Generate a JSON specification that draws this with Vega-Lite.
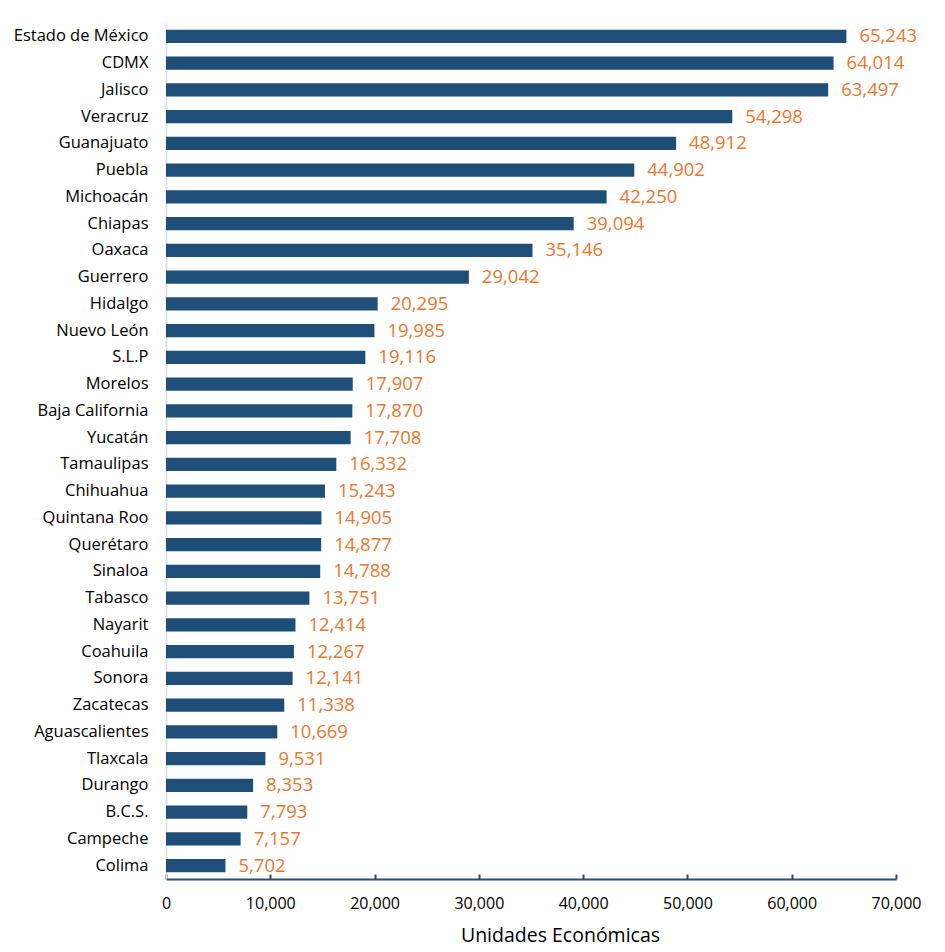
{
  "$schema": "https://vega.github.io/schema/vega-lite/v6.json",
  "width": 730,
  "height": 856,
  "autosize": {"type": "none"},
  "padding": {"left": 166, "top": 23, "right": 49, "bottom": 73},
  "background": "white",
  "config": {
    "view": {"stroke": null},
    "font": "Open Sans"
  },
  "data": {
    "values": [
      {"estado": "Estado de México", "unidades": 65243},
      {"estado": "CDMX", "unidades": 64014},
      {"estado": "Jalisco", "unidades": 63497},
      {"estado": "Veracruz", "unidades": 54298},
      {"estado": "Guanajuato", "unidades": 48912},
      {"estado": "Puebla", "unidades": 44902},
      {"estado": "Michoacán", "unidades": 42250},
      {"estado": "Chiapas", "unidades": 39094},
      {"estado": "Oaxaca", "unidades": 35146},
      {"estado": "Guerrero", "unidades": 29042},
      {"estado": "Hidalgo", "unidades": 20295},
      {"estado": "Nuevo León", "unidades": 19985},
      {"estado": "S.L.P", "unidades": 19116},
      {"estado": "Morelos", "unidades": 17907},
      {"estado": "Baja California", "unidades": 17870},
      {"estado": "Yucatán", "unidades": 17708},
      {"estado": "Tamaulipas", "unidades": 16332},
      {"estado": "Chihuahua", "unidades": 15243},
      {"estado": "Quintana Roo", "unidades": 14905},
      {"estado": "Querétaro", "unidades": 14877},
      {"estado": "Sinaloa", "unidades": 14788},
      {"estado": "Tabasco", "unidades": 13751},
      {"estado": "Nayarit", "unidades": 12414},
      {"estado": "Coahuila", "unidades": 12267},
      {"estado": "Sonora", "unidades": 12141},
      {"estado": "Zacatecas", "unidades": 11338},
      {"estado": "Aguascalientes", "unidades": 10669},
      {"estado": "Tlaxcala", "unidades": 9531},
      {"estado": "Durango", "unidades": 8353},
      {"estado": "B.C.S.", "unidades": 7793},
      {"estado": "Campeche", "unidades": 7157},
      {"estado": "Colima", "unidades": 5702}
    ]
  },
  "encoding": {
    "y": {
      "field": "estado",
      "type": "nominal",
      "sort": {"field": "unidades", "order": "descending"},
      "scale": {"paddingInner": 0.5, "paddingOuter": 0.25},
      "axis": {
        "title": null,
        "domainColor": "#D9D9D9",
        "domainWidth": 1.5,
        "ticks": false,
        "labelPadding": 18,
        "labelFontSize": 16.5,
        "labelColor": "#000000",
        "labelFont": "Open Sans"
      }
    },
    "x": {
      "field": "unidades",
      "type": "quantitative",
      "scale": {"domain": [0, 70000], "nice": false},
      "axis": {
        "values": [0, 10000, 20000, 30000, 40000, 50000, 60000, 70000],
        "format": ",.0f",
        "grid": false,
        "title": "Unidades Económicas",
        "titleFontSize": 19.5,
        "titleFontWeight": "normal",
        "titleColor": "#000000",
        "titleX": 394,
        "titleY": 62,
        "titleBaseline": "alphabetic",
        "titleAnchor": "middle",
        "domainColor": "#2F4B6E",
        "domainWidth": 2,
        "tickColor": "#2F4B6E",
        "tickWidth": 2,
        "tickSize": -5,
        "labelPadding": 21,
        "labelFontSize": 16,
        "labelColor": "#000000",
        "labelFlush": false
      }
    }
  },
  "layer": [
    {
      "mark": {"type": "bar", "color": "#1F4E79"}
    },
    {
      "mark": {
        "type": "text",
        "align": "left",
        "baseline": "middle",
        "dx": 13,
        "fontSize": 18.5,
        "color": "#E8782F"
      },
      "encoding": {
        "text": {"field": "unidades", "type": "quantitative", "format": ",.0f"}
      }
    }
  ]
}
